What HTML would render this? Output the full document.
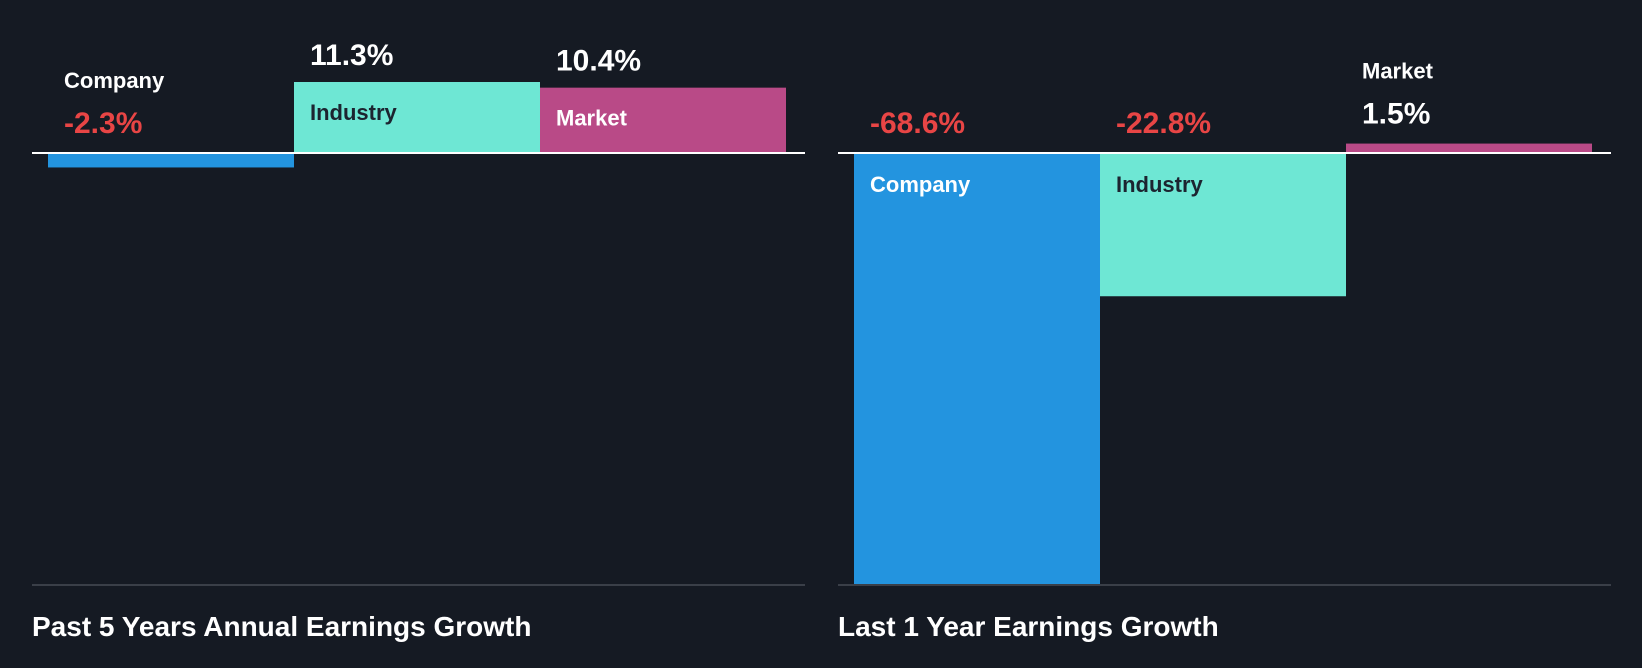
<!DOCTYPE html>
<html><head><meta charset="utf-8"><style>
html,body{margin:0;padding:0;background:#151a23;}
svg{display:block;font-family:"Liberation Sans",sans-serif;font-weight:bold;}
</style></head><body>
<svg id="c" width="1642" height="668">
<rect width="1642" height="668" fill="#151a23"/>
</svg>
<script>
const categories = ["Company","Industry","Market"];
const past5Values = [-2.3, 11.3, 10.4];
const last1Values = [-68.6, -22.8, 1.5];
const valueLabels5 = ["-2.3%","11.3%","10.4%"];
const valueLabels1 = ["-68.6%","-22.8%","1.5%"];
const colors = ["#2394df","#6ee7d4","#b94a87"];
const labelColors = ["#ffffff","#1c2430","#ffffff"];
const svg = document.getElementById('c');
const NS = 'http://www.w3.org/2000/svg';
function mk(tag, attrs, parent){const e=document.createElementNS(NS,tag);for(const k in attrs)e.setAttribute(k,attrs[k]);(parent||svg).appendChild(e);return e;}
function panel(px, values, labels, title, key){
  const g = mk('g',{});
  
  
  const zeroY = 153, scale = 431/68.6, bw = 246, x0 = px+16;
  const y = v => zeroY - v*scale;
  values.forEach((v,i)=>{
    const bx = x0 + i*bw;
    const top = Math.min(y(v), zeroY), h = Math.abs(y(v)-zeroY);
    const r = mk('rect',{x:bx,y:top,width:bw,height:h,fill:colors[i]},g);
    
    
    const neg = v<0, valColor = neg ? '#e84545' : '#ffffff';
    let labY, labFill, valY;
    if(h < 40){
      const base = neg ? zeroY : top;
      valY = base - 20; labY = base - 65; labFill = '#ffffff';
    } else if(neg){
      valY = zeroY - 20; labY = zeroY + 39; labFill = labelColors[i];
    } else {
      valY = top - 17; labY = top + 38; labFill = labelColors[i];
    }
    const lt = mk('text',{x:bx+16,y:labY,fill:labFill,'font-size':22},g);
    lt.textContent = categories[i];
    
    
    const vt = mk('text',{x:bx+16,y:valY,fill:valColor,'font-size':30},g);
    vt.textContent = labels[i];
    
    
  });
  const zl = mk('line',{x1:px,x2:px+773,y1:zeroY,y2:zeroY,stroke:'#ffffff','stroke-width':2},g);
  
  
  const bl = mk('line',{x1:px,x2:px+773,y1:585,y2:585,stroke:'#3a3f48','stroke-width':2},g);
  
  
  const t = mk('text',{x:px,y:636,fill:'#ffffff','font-size':28},g);
  t.textContent = title;
  
  
}
panel(32, past5Values, valueLabels5, 'Past 5 Years Annual Earnings Growth', 'past-5-years');
panel(838, last1Values, valueLabels1, 'Last 1 Year Earnings Growth', 'last-1-year');
</script>
</body></html>
